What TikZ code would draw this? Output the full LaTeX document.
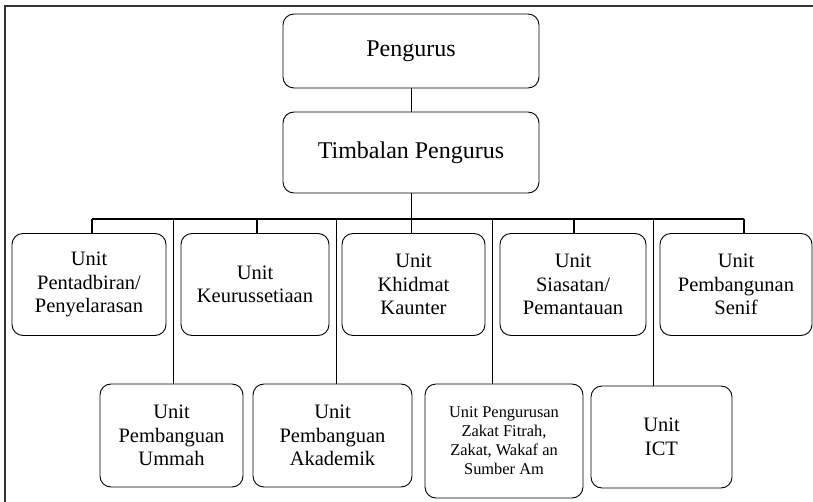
\documentclass[tikz,border=0pt]{standalone}
\usepackage{fontspec}
\setmainfont{Liberation Serif}
\usetikzlibrary{positioning}

\begin{document}
\begin{tikzpicture}[x=1pt, y=-1pt,
    box/.style={draw, rounded corners=11pt, line width=0.9pt, align=center, inner sep=2pt},
    unitbox/.style={box, minimum height=102pt, font=\fontsize{20.5}{23.5}\selectfont},
    link/.style={line width=0.8pt},
    barlink/.style={line width=1.5pt}]
  \useasboundingbox (0,0) rectangle (813,502);
  % frame
  \draw[line width=1.6pt, black!80] (813,6) -- (5,6) -- (5,502);

  % top
  \node[box, minimum width=256pt, minimum height=74pt, font=\fontsize{24}{28}\selectfont] (peng) at (411,51) {Pengurus};
  \node[box, minimum width=256pt, minimum height=81pt, font=\fontsize{24}{28}\selectfont] (timb) at (411,152.5) {Timbalan Pengurus};

  % first row
  \node[unitbox, minimum width=154pt] (pent) at (89,284.5) {Unit\\Pentadbiran/\\Penyelarasan};
  \node[unitbox, minimum width=148pt] (keur) at (255,284.5) {Unit\\Keurussetiaan};
  \node[unitbox, minimum width=143pt] (khid) at (413.5,284.5) {Unit\\Khidmat\\Kaunter};
  \node[unitbox, minimum width=146pt] (sias) at (573,284.5) {Unit\\Siasatan/\\Pemantauan};
  \node[unitbox, minimum width=152pt] (senif) at (736,284.5) {Unit\\Pembangunan\\Senif};

  % second row
  \node[unitbox, minimum width=143pt, minimum height=103pt] (umm) at (171.5,435.5) {Unit\\Pembanguan\\Ummah};
  \node[unitbox, minimum width=159pt, minimum height=103pt] (akad) at (332.5,435.5) {Unit\\Pembanguan\\Akademik};
  \node[unitbox, minimum width=158pt, minimum height=114pt, font=\fontsize{16.4}{19}\selectfont] (zakat) at (504,441) {Unit Pengurusan\\Zakat Fitrah,\\Zakat, Wakaf an\\Sumber Am};
  \node[unitbox, minimum width=141pt] (ict) at (661.5,437) {Unit\\ICT};

  % bar
  \coordinate (b1) at (92,219);
  \coordinate (b2) at (257,219);
  \coordinate (b3) at (574,219);
  \coordinate (b4) at (744,219);
  \coordinate (c1) at (173,219);
  \coordinate (c2) at (336,219);
  \coordinate (c3) at (492,219);
  \coordinate (c4) at (653,219);
  \draw[barlink] (b1) -- (b4);

  \draw[link] (peng) -- (timb);
  \draw[link] (timb.south) -- (timb.south |- khid.north);
  \foreach \b/\n in {b1/pent, b2/keur, b3/sias, b4/senif}
    \draw[barlink] (\b) -- (\b |- \n.north);
  \foreach \c/\n in {c1/umm, c2/akad, c3/zakat, c4/ict}
    \draw[link] (\c) -- (\c |- \n.north);
\end{tikzpicture}
\end{document}
